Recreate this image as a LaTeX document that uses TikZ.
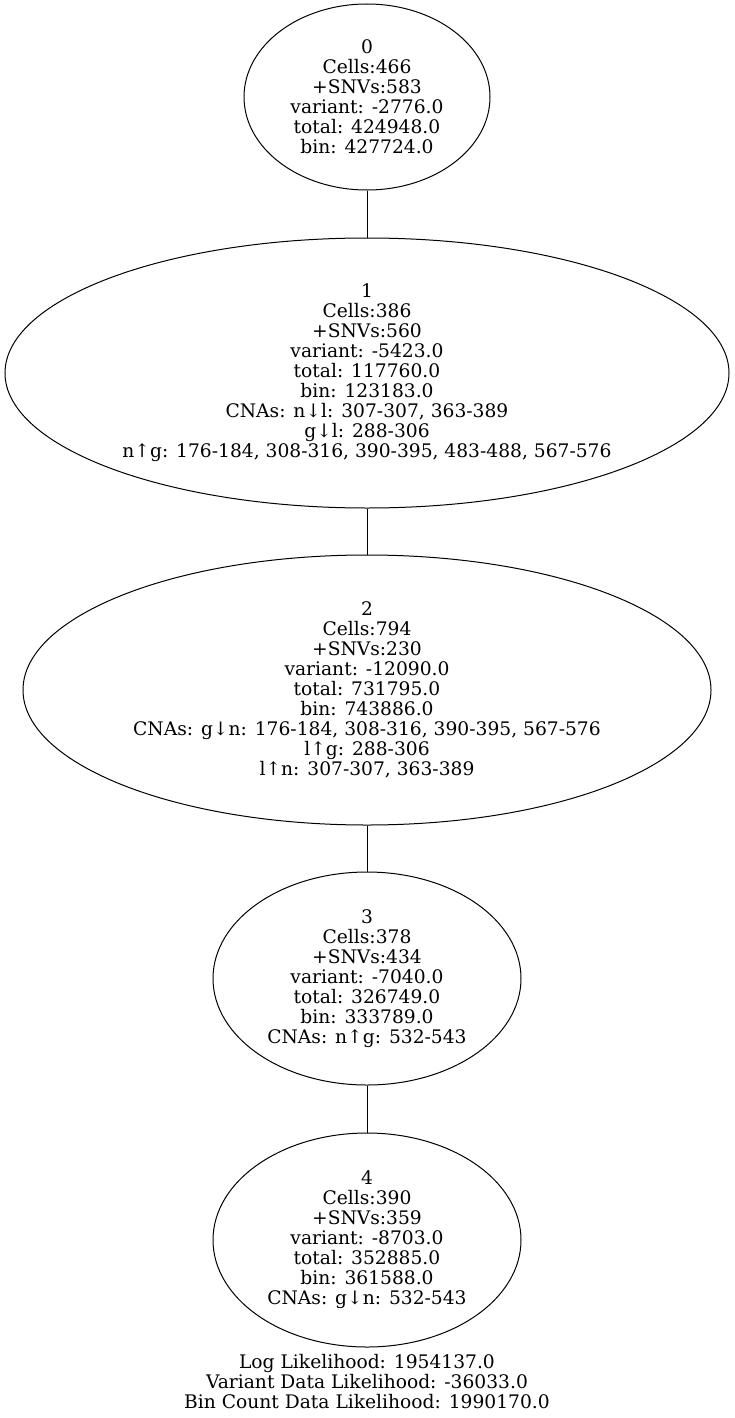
\documentclass[tikz,border=0pt]{standalone}
\usepackage{fontspec}
\setmainfont{DejaVu Serif}
\usetikzlibrary{shapes.geometric}
\tikzset{
  treenode/.style={ellipse, draw=black, line width=1pt, inner sep=0pt, align=center,
    font={\fontsize{18.67}{20}\selectfont}},
  treeedge/.style={draw=black, line width=1pt},
  note/.style={align=center, inner sep=0pt, font={\fontsize{18.67}{20}\selectfont}}
}
\begin{document}
\begin{tikzpicture}[x=1pt,y=-1pt]
\useasboundingbox (0,0) rectangle (735,1418);
\node[treenode, minimum width=246pt, minimum height=186pt] (n0) at (367,97)
  {0\\Cells:466\\+SNVs:583\\variant: -2776.0\\total: 424948.0\\bin: 427724.0};
\node[treenode, minimum width=724pt, minimum height=270pt] (n1) at (367,373)
  {1\\Cells:386\\+SNVs:560\\variant: -5423.0\\total: 117760.0\\bin: 123183.0\\CNAs: n↓l: 307-307, 363-389\\g↓l: 288-306\\n↑g: 176-184, 308-316, 390-395, 483-488, 567-576};
\node[treenode, minimum width=688pt, minimum height=270pt] (n2) at (367,690)
  {2\\Cells:794\\+SNVs:230\\variant: -12090.0\\total: 731795.0\\bin: 743886.0\\CNAs: g↓n: 176-184, 308-316, 390-395, 567-576\\l↑g: 288-306\\l↑n: 307-307, 363-389};
\node[treenode, minimum width=308pt, minimum height=213pt] (n3) at (367,978.5)
  {3\\Cells:378\\+SNVs:434\\variant: -7040.0\\total: 326749.0\\bin: 333789.0\\CNAs: n↑g: 532-543};
\node[treenode, minimum width=308pt, minimum height=214pt] (n4) at (367,1240)
  {4\\Cells:390\\+SNVs:359\\variant: -8703.0\\total: 352885.0\\bin: 361588.0\\CNAs: g↓n: 532-543};
\node[note] (ll) at (367,1381.7)
  {Log Likelihood: 1954137.0\\Variant Data Likelihood: -36033.0\\Bin Count Data Likelihood: 1990170.0};
\draw[treeedge] (n0) -- (n1);
\draw[treeedge] (n1) -- (n2);
\draw[treeedge] (n2) -- (n3);
\draw[treeedge] (n3) -- (n4);
\end{tikzpicture}
\end{document}
